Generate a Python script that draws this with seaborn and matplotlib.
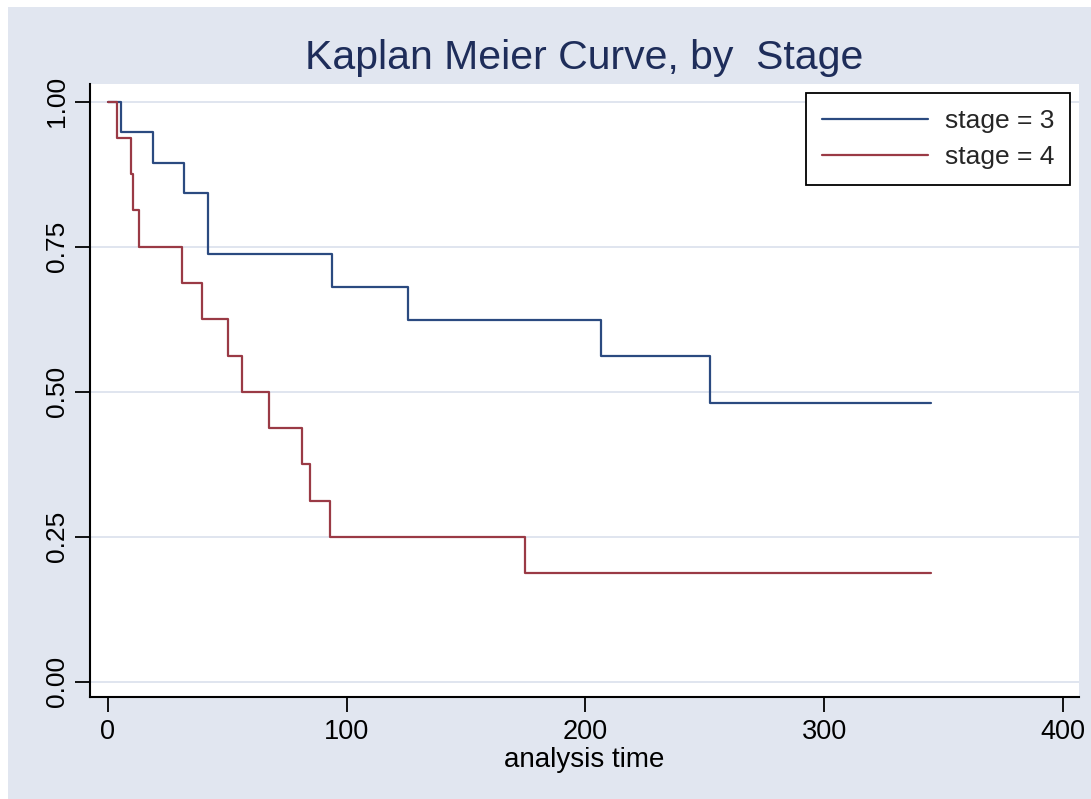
import matplotlib
matplotlib.use("Agg")
import matplotlib.pyplot as plt
import seaborn as sns
import pandas as pd
from matplotlib.patches import Rectangle

# ---- data ----
stage3_time = [0, 5.3, 18.9, 32, 42, 93.8, 125.7, 206.5, 252.2, 344.8]
stage3_surv = [1.0, 0.947, 0.895, 0.842, 0.737, 0.680, 0.623, 0.561, 0.481, 0.481]
stage4_time = [0, 3.9, 9.6, 10.5, 13.1, 31, 39.4, 50.3, 56, 67.6, 81.4, 84.8, 93, 174.7, 344.8]
stage4_surv = [1.0, 0.9375, 0.875, 0.8125, 0.75, 0.6875, 0.625, 0.5625, 0.5, 0.4375,
               0.375, 0.3125, 0.25, 0.1875, 0.1875]
series_labels = ["stage = 3", "stage = 4"]
x_ticks = [0, 100, 200, 300, 400]
y_ticks = [0.00, 0.25, 0.50, 0.75, 1.00]
y_tick_labels = ["0.00", "0.25", "0.50", "0.75", "1.00"]

df = pd.concat([
    pd.DataFrame({"time": stage3_time, "surv": stage3_surv, "group": series_labels[0]}),
    pd.DataFrame({"time": stage4_time, "surv": stage4_surv, "group": series_labels[1]}),
], ignore_index=True)

sns.set_theme(style="white")
plt.rcParams["font.family"] = ["Liberation Sans", "DejaVu Sans"]

BG = "#E1E6F0"
fig = plt.figure(figsize=(10.91, 7.99), dpi=100, facecolor="white")
fig.patches.append(Rectangle((8 / 1091, 0), 1, 1 - 7 / 799, transform=fig.transFigure,
                             facecolor=BG, edgecolor="none", zorder=-10))
ax = fig.add_axes([90 / 1091, 1 - 697 / 799, (1079 - 90) / 1091, (697 - 84) / 799])
ax.set_facecolor("white")

palette = {series_labels[0]: "#2B4A80", series_labels[1]: "#9A3A45"}
sns.lineplot(data=df, x="time", y="surv", hue="group", palette=palette,
             estimator=None, sort=False, drawstyle="steps-post", linewidth=1.6, ax=ax)

ax.set_xlim(-7.5, 406.7)
ax.set_ylim(-0.026, 1.0305)
ax.set_xticks(x_ticks)
ax.set_xticklabels([str(t) for t in x_ticks], fontsize=19.5)
ax.set_yticks(y_ticks)
ax.set_yticklabels(y_tick_labels, rotation=90, va="center", fontsize=19)
for y in y_ticks:
    ax.axhline(y, color="#DDE3EE", linewidth=1.3, zorder=0)

for s in ["top", "right"]:
    ax.spines[s].set_visible(False)
for s in ["left", "bottom"]:
    ax.spines[s].set_color("black")
    ax.spines[s].set_linewidth(1.5)

ax.tick_params(axis="both", which="major", length=11, width=1.3, color="black",
               labelcolor="black", direction="out", bottom=True, left=True)
ax.tick_params(axis="x", pad=5)
ax.tick_params(axis="y", pad=4)

ax.set_xlabel("analysis time", fontsize=20, color="black", labelpad=1)
ax.set_ylabel("")
fig.text((90 + 1079) / 2 / 1091, 1 - 58 / 799, "Kaplan Meier Curve, by  Stage",
         ha="center", va="center", fontsize=29.5, color="#1E2D5A")

leg = ax.legend(loc="upper right", bbox_to_anchor=(0.991, 0.985), borderaxespad=0,
                fontsize=19, frameon=True, fancybox=False, handlelength=4.0,
                handletextpad=0.65, borderpad=0.6, labelspacing=0.45)
leg.get_frame().set_edgecolor("black")
leg.get_frame().set_linewidth(1.3)
leg.get_frame().set_facecolor("white")
leg.get_frame().set_alpha(1)
for line in leg.get_lines():
    line.set_linewidth(1.6)

fig.savefig("out.png", dpi=100, facecolor=fig.get_facecolor())
